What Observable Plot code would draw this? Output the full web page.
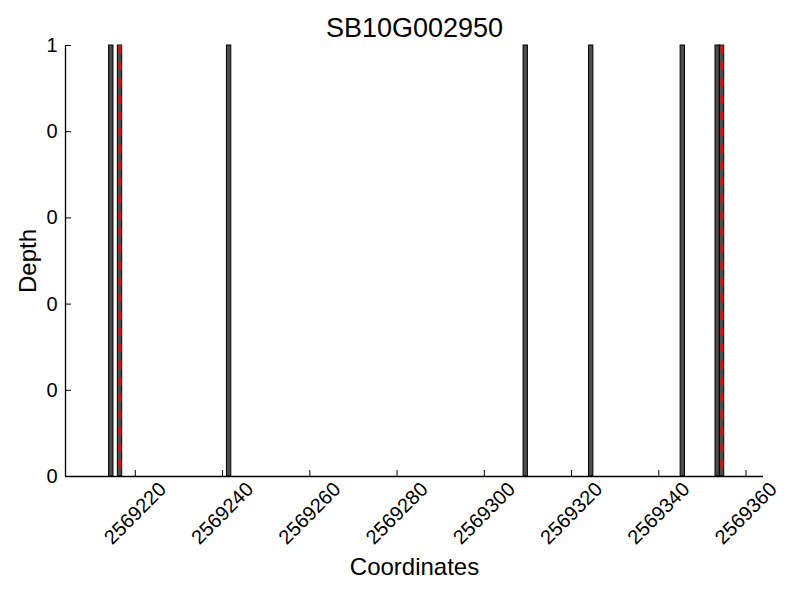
<!DOCTYPE html>
<html><head><meta charset="utf-8">
<script src="https://cdn.jsdelivr.net/npm/d3@7"></script>
<script src="https://cdn.jsdelivr.net/npm/@observablehq/plot@0.6"></script>
<style>
html,body{margin:0;padding:0;background:#fff}
#chart svg{display:block}
</style>
</head><body><div id="chart"></div>
<script>
const title = "SB10G002950";
const xLabel = "Coordinates";
const yLabel = "Depth";
const barStarts = [2569214, 2569216, 2569241, 2569309, 2569324, 2569345, 2569353, 2569354];
const barDepths = [1, 1, 1, 1, 1, 1, 1, 1];
const barWidth = 1;
const markerPositions = [2569216.5, 2569354.5];
const xTicks = [2569220, 2569240, 2569260, 2569280, 2569300, 2569320, 2569340, 2569360];
const xTickLabels = ["2569220", "2569240", "2569260", "2569280", "2569300", "2569320", "2569340", "2569360"];
const yTicks = [0, 0.2, 0.4, 0.6, 0.8, 1];
const yTickLabels = ["0", "0", "0", "0", "0", "1"];
const xDomain = [2569204, 2569364];
const yDomain = [0, 1];

const W = 800, H = 600, mt = 45, mr = 37, mb = 124, ml = 65;
const frameW = W - ml - mr, frameH = H - mt - mb;
const font = "'Liberation Sans', Arial, Helvetica, sans-serif";

const bars = barStarts.map((s, i) => ({start: s, end: s + barWidth, depth: barDepths[i]}));

const chart = Plot.plot({
  width: W, height: H,
  marginTop: mt, marginRight: mr, marginBottom: mb, marginLeft: ml,
  style: {fontFamily: font, fontSize: "20px", color: "#000", background: "#fff", overflow: "visible"},
  x: {domain: xDomain, axis: null},
  y: {domain: yDomain, axis: null},
  marks: [
    Plot.rectY(bars, {x1: "start", x2: "end", y: "depth", fill: "#4d4d4d", stroke: "#000", strokeWidth: 1}),
    Plot.ruleX(markerPositions, {x: d => d, stroke: "#ff0000", strokeWidth: 2.6, strokeDasharray: "8.3,8.3"}),
    Plot.ruleY([yDomain[0]], {stroke: "#000", strokeWidth: 1.3}),
    Plot.ruleX([xDomain[0]], {stroke: "#000", strokeWidth: 1.3}),
    Plot.ruleX(xTicks, {x: d => d, insetTop: frameH - 6, stroke: "#000", strokeWidth: 1}),
    Plot.ruleY(yTicks, {y: d => d, insetRight: frameW - 6, stroke: "#000", strokeWidth: 1}),
    Plot.text(yTicks, {y: d => d, text: (d, i) => yTickLabels[i], frameAnchor: "left", textAnchor: "end", dx: -8, fontSize: 20, fill: "#000"}),
    Plot.text(xTicks, {x: d => d, text: (d, i) => xTickLabels[i], frameAnchor: "bottom", dy: 37, rotate: -45, textAnchor: "middle", lineAnchor: "middle", fontSize: 20, fill: "#000"}),
    Plot.text([title], {text: d => d, frameAnchor: "top", textAnchor: "middle", dy: -17, lineAnchor: "middle", fontSize: 27, fill: "#000"}),
    Plot.text([xLabel], {text: d => d, frameAnchor: "bottom", textAnchor: "middle", dy: 91, lineAnchor: "middle", fontSize: 24, fill: "#000"}),
    Plot.text([yLabel], {text: d => d, frameAnchor: "left", textAnchor: "middle", dx: -37, rotate: -90, lineAnchor: "middle", fontSize: 24, fill: "#000"})
  ]
});
document.getElementById("chart").appendChild(chart);
</script>
</body></html>
